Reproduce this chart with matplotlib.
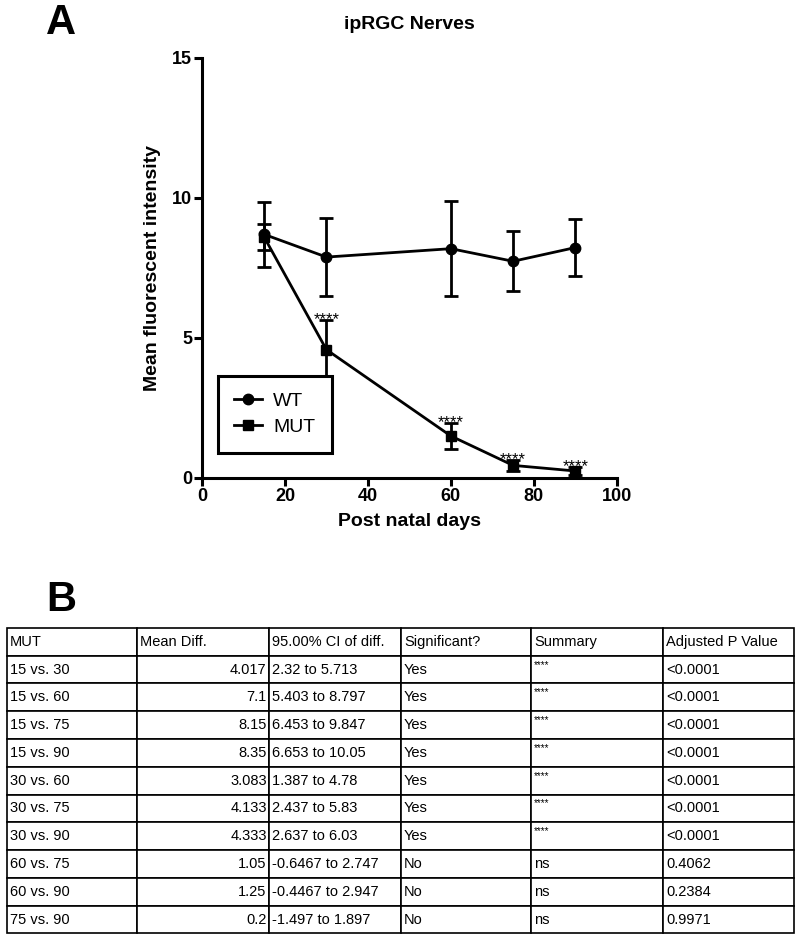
import matplotlib.pyplot as plt

plt.rcParams['font.family'] = ['Liberation Sans', 'DejaVu Sans']

# Panel A data
dias = [15, 30, 60, 75, 90]
wt_media = [8.7, 7.89, 8.19, 7.74, 8.23]
wt_erro = [1.17, 1.4, 1.7, 1.07, 1.02]
mut_media = [8.6, 4.583, 1.5, 0.45, 0.25]
mut_erro = [0.47, 1.05, 0.45, 0.2, 0.15]
mut_signif = ['', '****', '****', '****', '****']

# Panel B table
cabecalho = ['MUT', 'Mean Diff.', '95.00% CI of diff.', 'Significant?', 'Summary', 'Adjusted P Value']
comparacoes = ['15 vs. 30', '15 vs. 60', '15 vs. 75', '15 vs. 90', '30 vs. 60',
               '30 vs. 75', '30 vs. 90', '60 vs. 75', '60 vs. 90', '75 vs. 90']
diferencas = ['4.017', '7.1', '8.15', '8.35', '3.083', '4.133', '4.333', '1.05', '1.25', '0.2']
intervalos = ['2.32 to 5.713', '5.403 to 8.797', '6.453 to 9.847', '6.653 to 10.05',
              '1.387 to 4.78', '2.437 to 5.83', '2.637 to 6.03', '-0.6467 to 2.747',
              '-0.4467 to 2.947', '-1.497 to 1.897']
significativo = ['Yes'] * 7 + ['No'] * 3
resumo = ['****'] * 7 + ['ns'] * 3
p_ajustado = ['<0.0001'] * 7 + ['0.4062', '0.2384', '0.9971']

fig = plt.figure(figsize=(8, 9.4), dpi=100)

# ---- Panel A ----
ax = fig.add_axes([0.2525, 0.4915, 0.5185, 0.4468])
ax.errorbar(dias, wt_media, yerr=wt_erro, fmt='-o', color='black', lw=2, ms=7.5,
            capsize=5, capthick=2, elinewidth=2, label='WT', clip_on=False)
ax.errorbar(dias, mut_media, yerr=mut_erro, fmt='-s', color='black', lw=2, ms=7.5,
            capsize=5, capthick=2, elinewidth=2, label='MUT', clip_on=False)

for x, m, e, s in zip(dias, mut_media, mut_erro, mut_signif):
    if s:
        ax.annotate(s, (x, m + e), xytext=(0, -5), textcoords='offset points',
                    ha='center', va='bottom', fontsize=12)

ax.set_xlim(0, 100)
ax.set_ylim(0, 15)
ax.set_xticks([0, 20, 40, 60, 80, 100])
ax.set_yticks([0, 5, 10, 15])
for lado in ['top', 'right']:
    ax.spines[lado].set_visible(False)
for lado in ['left', 'bottom']:
    ax.spines[lado].set_linewidth(2.2)
ax.tick_params(width=2.2, length=6, labelsize=13, pad=1)
for t in ax.get_xticklabels() + ax.get_yticklabels():
    t.set_fontweight('bold')
ax.set_xlabel('Post natal days', fontsize=14, fontweight='bold', labelpad=6)
ax.set_ylabel('Mean fluorescent intensity', fontsize=14, fontweight='bold', labelpad=8)
ax.set_title('ipRGC Nerves', fontsize=14, fontweight='bold', pad=21)

handles, labels = ax.get_legend_handles_labels()
leg = ax.legend([h[0] for h in handles], labels, loc='lower left',
                bbox_to_anchor=(0.038, 0.06), fontsize=14,
                fancybox=False, edgecolor='black', framealpha=1,
                borderpad=0.85, handlelength=1.4, handletextpad=0.6,
                labelspacing=0.45, borderaxespad=0)
leg.get_frame().set_linewidth(2.2)

fig.text(0.058, 0.975, 'A', fontsize=30, fontweight='bold', va='center')
fig.text(0.058, 0.362, 'B', fontsize=30, fontweight='bold', va='center')

# ---- Panel B ----
tax = fig.add_axes([0.009, 0.007, 0.984, 0.325])
tax.axis('off')
linhas = [cabecalho] + [list(r) for r in zip(comparacoes, diferencas, intervalos,
                                             significativo, resumo, p_ajustado)]
larguras = [130, 132, 132, 130, 132, 131]
tot = sum(larguras)
tab = tax.table(cellText=linhas, colWidths=[w / tot for w in larguras],
                cellLoc='left', bbox=[0, 0, 1, 1])
tab.auto_set_font_size(False)
for (r, c), cell in tab.get_celld().items():
    cell.set_linewidth(1.2)
    cell.PAD = 0.02
    cell.set_text_props(fontsize=10.5)
    if c == 1 and r > 0:
        cell.set_text_props(ha='right')
    if c == 4 and r > 0 and linhas[r][c] == '****':
        cell.set_text_props(fontsize=7, va='bottom')

fig.savefig('out.png', dpi=100)
